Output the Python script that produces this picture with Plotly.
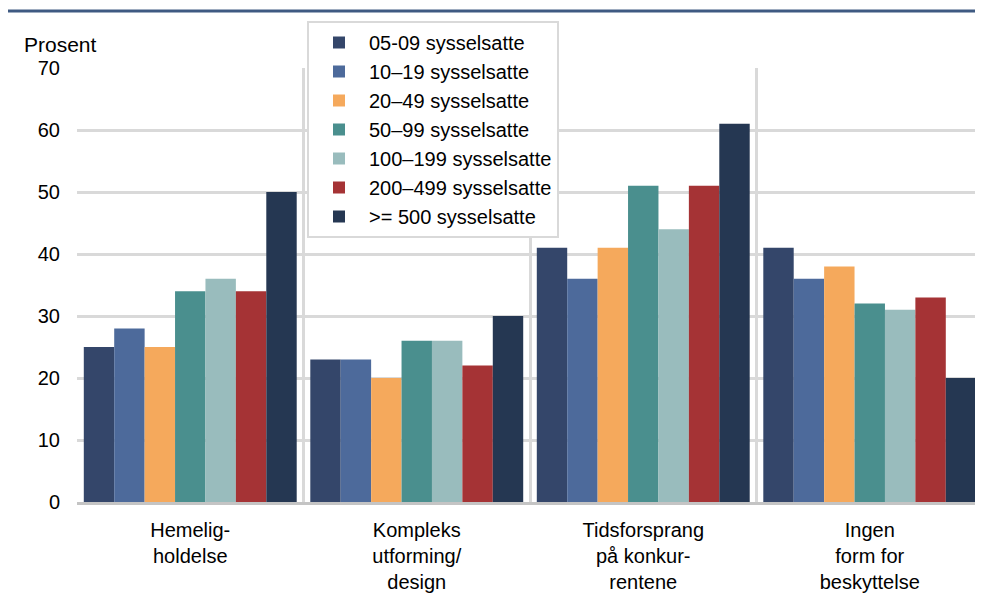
import plotly.graph_objects as go

categories = ["Hemelig-<br>holdelse", "Kompleks<br>utforming/<br>design",
              "Tidsforsprang<br>på konkur-<br>rentene", "Ingen<br>form for<br>beskyttelse"]

series_names = ["05-09 sysselsatte", "10–19 sysselsatte", "20–49 sysselsatte",
                "50–99 sysselsatte", "100–199 sysselsatte", "200–499 sysselsatte",
                ">= 500 sysselsatte"]

v_05_09 = [25, 23, 41, 41]
v_10_19 = [28, 23, 36, 36]
v_20_49 = [25, 20, 41, 38]
v_50_99 = [34, 26, 51, 32]
v_100_199 = [36, 26, 44, 31]
v_200_499 = [34, 22, 51, 33]
v_500 = [50, 30, 61, 20]

colors = ["#34466a", "#4d6a9b", "#f5a95c", "#4a8f8e", "#99bcbd", "#a53335", "#253752"]

y_ticks = [0, 10, 20, 30, 40, 50, 60, 70]

all_values = [v_05_09, v_10_19, v_20_49, v_50_99, v_100_199, v_200_499, v_500]

fig = go.Figure()
for name, vals, col in zip(series_names, all_values, colors):
    fig.add_trace(go.Bar(x=categories, y=vals, name=name, marker_color=col,
                         marker_line_width=0))

# page is offset by the default 8px body margin
OFF = 8
W, H = 975, 600
ml, mr, mt, mb = 77 - OFF, 0, 68 - OFF, H - (502 - OFF)
pw, ph = W - ml - mr, H - mt - mb

def px_x(x):
    return (x - OFF - ml) / pw

def px_y(y):
    return (H - mb - (y - OFF)) / ph

fig.update_layout(
    width=W, height=H,
    margin=dict(l=ml, r=mr, t=mt, b=mb, pad=0),
    paper_bgcolor="white", plot_bgcolor="white",
    barmode="group", bargap=0.06, bargroupgap=0,
    font=dict(family="Liberation Sans, Arial, sans-serif", size=18, color="black"),
    showlegend=True,
    legend=dict(x=px_x(307), y=px_y(21), xanchor="left", yanchor="top",
                bgcolor="white", bordercolor="#d9d9d9", borderwidth=2,
                font=dict(size=20, color="black"), tracegroupgap=0,
                itemwidth=50, itemsizing="constant"),
    xaxis=dict(type="category", tickson="boundaries", showgrid=True,
               gridcolor="#d9d9d9", gridwidth=3, ticks="",
               showline=True, linecolor="#c4c4c4", linewidth=3,
               tickfont=dict(family="Liberation Sans Narrow, Arial Narrow, Liberation Sans", size=20),
               ticklabelstandoff=8, range=[-0.5, 3.5]),
    yaxis=dict(range=[0, 70], tickvals=y_ticks, showgrid=True,
               gridcolor="#d9d9d9", gridwidth=3, zeroline=False,
               ticks="", ticklabelstandoff=16, showline=False,
               tickfont=dict(size=20)),
)

fig.add_annotation(text="Prosent", xref="paper", yref="paper",
                   x=px_x(22), y=px_y(45), xanchor="left", yanchor="middle",
                   showarrow=False, font=dict(size=21))

fig.add_shape(type="line", xref="paper", yref="paper",
              x0=px_x(5), x1=1.0, y0=px_y(11), y1=px_y(11),
              line=dict(color="#3f5a82", width=3))

fig.write_html("out.html")
